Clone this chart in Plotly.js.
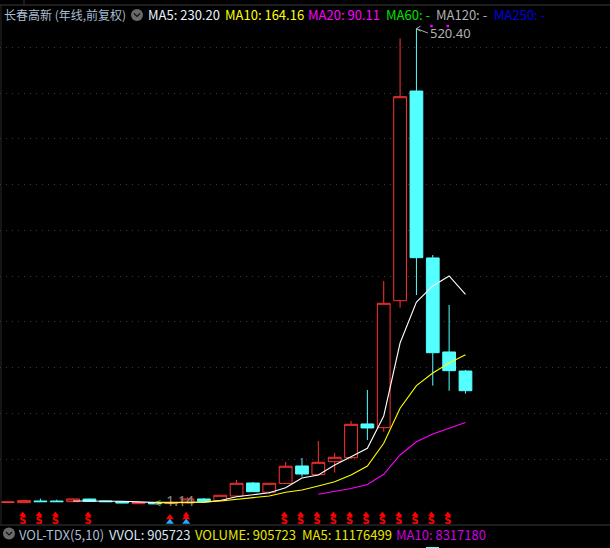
<!DOCTYPE html>
<html><head><meta charset="utf-8">
<script src="https://cdn.plot.ly/plotly-3.0.1.min.js"></script>
<style>html,body{margin:0;padding:0;background:#000;overflow:hidden}#c{width:610px;height:548px}</style>
</head><body><div id="c"></div>
<script>
const idx = Array.from({length:29},(_,i)=>i);
const open_  = [2.8,2.6,4.45,4.4,3.7,6.6,4.45,3.7,1.5,2.6,1.6,2.26,6.65,4.8,9.9,24.1,14.0,23.6,42.7,33.2,47.4,51.7,88.6,84.5,223.2,452.2,269.9,167.2,146.4];
const high_  = [3.4,5.0,6.97,5.9,6.8,6.9,4.9,3.9,2.8,2.9,3.0,8.5,7.7,11.0,27.4,25.2,24.1,47.0,51.4,70.0,56.9,91.8,125.7,244.7,509.8,520.4,273.1,218.5,147.5];
const low_   = [2.8,2.4,3.5,3.5,3.6,4.0,3.5,2.1,1.4,1.14,1.4,1.9,3.9,4.5,9.6,14.3,12.1,23.3,31.0,32.9,35.4,50.3,71.1,80.1,215.6,229.4,130.4,124.9,121.7];
const close_ = [3.4,4.8,3.7,3.7,6.65,4.1,3.7,2.26,2.6,1.4,2.4,6.65,4.1,10.7,23.8,14.6,23.8,42.4,33.9,46.7,52.2,88.2,84.2,220.4,446.0,270.2,166.4,146.8,124.9];
const ma5Idx = idx.slice(4);
const ma5  = [4.4,4.6,4.6,4.2,3.5,2.8,2.2,3.0,3.2,5.0,9.1,11.3,13.5,19.0,29.6,32.9,43.7,52.8,62.0,97.3,177.0,221.8,239.3,250.2,230.2];
const ma10Idx = idx.slice(9);
const ma10 = [2.9,2.8,3.0,3.1,4.4,6.3,7.7,9.9,13.9,16.4,20.8,25.5,32.8,42.7,67.5,105.7,130.4,144.2,155.2,164.16];
const ma20Idx = idx.slice(19);
const ma20 = [11.8,15.0,18.1,22.5,33.6,54.7,69.2,77.6,83.9,90.11];
const sIdx = [1,2,3,5,17,18,19,20,21,22,23,24,25,26,27];
const bsIdx = [10,11];
const squareIdx = [26,27];
const gridVals = [50,100,150,200,250,300,350,400,450,500];

const RED='#ff3232', CYAN='#54ffff';
const shift = a => a.map(i=>i-0.08);
const same = (a,v) => a.map(()=>v);

const traces = [
 {type:'scatter',mode:'text',x:[9.7],y:[2.3],text:['1.14'],textposition:'middle right',
  textfont:{family:'Noto Sans, sans-serif',size:14,color:'#8a8a8a'},hoverinfo:'skip'},
 {type:'scatter',mode:'text',x:[25.83],y:[514],text:['520.40'],textposition:'middle right',
  textfont:{family:'Noto Sans, sans-serif',size:13,color:'#b0b0b0'},hoverinfo:'skip'},
 {type:'scatter',mode:'lines',x:[25,25.7],y:[520.4,515.6],line:{color:'#b0b0b0',width:1},hoverinfo:'skip'},
 {type:'scatter',mode:'lines',x:[25.25,25,25.25],y:[523,520.4,517.5],line:{color:'#b0b0b0',width:1},hoverinfo:'skip'},
 {type:'scatter',mode:'lines',x:[9.35,9.0,9.35],y:[5,2.3,-1],line:{color:'#8a8a8a',width:1},hoverinfo:'skip'},
 {type:'candlestick',x:idx,open:open_,high:high_,low:low_,close:close_,whiskerwidth:0,
  increasing:{line:{color:RED,width:1},fillcolor:'#000'},
  decreasing:{line:{color:CYAN,width:1},fillcolor:CYAN},hoverinfo:'skip'},
 {type:'scatter',mode:'lines',x:ma5Idx,y:ma5,line:{color:'#ffffff',width:1.1},hoverinfo:'skip'},
 {type:'scatter',mode:'lines',x:ma10Idx,y:ma10,line:{color:'#ffff00',width:1.1},hoverinfo:'skip'},
 {type:'scatter',mode:'lines',x:ma20Idx,y:ma20,line:{color:'#ff00ff',width:1.1},hoverinfo:'skip'},
 {type:'scatter',mode:'markers',x:shift(squareIdx),y:same(squareIdx,523.2),
  marker:{symbol:'square',size:2.5,color:'#ff00ff'},hoverinfo:'skip'},
 {type:'scatter',mode:'text',x:shift(sIdx),y:same(sIdx,-17.6),text:same(sIdx,'S'),textposition:'middle center',
  textfont:{family:'DejaVu Sans, sans-serif',size:10,color:'#ff0000',weight:700},hoverinfo:'skip'},
 {type:'scatter',mode:'markers',x:shift(sIdx),y:same(sIdx,-10.4),
  marker:{symbol:'triangle-up',size:6,color:'#ff0000'},hoverinfo:'skip'},
 {type:'scatter',mode:'markers',x:shift(bsIdx),y:same(bsIdx,-18.6),
  marker:{symbol:'triangle-up',size:7,color:'#2aa8ff'},hoverinfo:'skip'},
 {type:'scatter',mode:'markers',x:shift(bsIdx),y:same(bsIdx,-13.6),
  marker:{symbol:'triangle-up',size:7,color:'#ff0000'},hoverinfo:'skip'},
 {type:'scatter',mode:'markers',x:shift([11]),y:[-10.6],
  marker:{symbol:'triangle-up',size:6,color:'#ff0000'},hoverinfo:'skip'}
];

const FONT='"Noto Sans CJK SC","Noto Sans",sans-serif';
const label=(t,px,py,color,size)=>({text:t,x:(px-2)/610,y:1-py/548,xref:'paper',yref:'paper',xanchor:'left',yanchor:'middle',
  showarrow:false,font:{family:FONT,size:size||13,color:color}});
const annotations=[
 label('长春高新 (年线,前复权)',4,14.5,'#a9bdd2',12),
 label('MA5: 230.20',148,14.5,'#e8f2ff'),
 label('MA10: 164.16',225,14.5,'#ffff00'),
 label('MA20: 90.11',308,14.5,'#ff00ff'),
 label('MA60: -',386,14.5,'#00e000'),
 label('MA120: -',436,14.5,'#b0b0b0'),
 label('MA250: -',494,14.5,'#0000e8'),
 label('VOL-TDX(5,10)',19,534,'#a9bdd2'),
 label('VVOL: 905723',109,534,'#d8e4f0'),
 label('VOLUME: 905723',195,534,'#e6e600'),
 label('MA5: 11176499',302,534,'#e6e600'),
 label('MA10: 8317180',396,534,'#d000e0')
];
const P=(x0,y0,x1,y1,extra)=>Object.assign({xref:'paper',yref:'paper',x0:x0/610,x1:x1/610,y0:1-y0/548,y1:1-y1/548,line:{width:0}},extra);
const shapes=[
 P(0,5,610,5,{type:'line',line:{color:'#3a3a3a',width:1}}),
 P(0,525,610,525,{type:'line',line:{color:'#3a3a3a',width:1}}),
 P(1,5,1,525,{type:'line',line:{color:'#2a2a2a',width:1}}),
 P(24,0,24,5,{type:'line',line:{color:'#3a3a3a',width:1}}),
 P(131,9,143,21,{type:'circle',fillcolor:'#6a6a6a'}),
 P(3,527.5,15,539.5,{type:'circle',fillcolor:'#6a6a6a'}),
 P(426,547,439,548,{type:'rect',fillcolor:CYAN}),
 {type:'path',xref:'paper',yref:'paper',path:`M${134/610},${1-13.5/548} L${137/610},${1-16.5/548} L${140/610},${1-13.5/548}`,line:{color:'#111',width:1.2}},
 {type:'path',xref:'paper',yref:'paper',path:`M${6/610},${1-532/548} L${9/610},${1-535/548} L${12/610},${1-532/548}`,line:{color:'#111',width:1.2}}
];

const layout={width:610,height:548,margin:{l:0,r:0,t:0,b:0},paper_bgcolor:'#000',plot_bgcolor:'#000',showlegend:false,
 boxgap:0.22,boxgroupgap:0,
 xaxis:{range:[-0.471,36.84],visible:false,rangeslider:{visible:false},fixedrange:true},
 yaxis:{range:[-46.9,551.64],tickmode:'array',tickvals:gridVals,showticklabels:false,ticks:'',zeroline:false,showline:false,
   showgrid:true,gridcolor:'#3c3c3c',griddash:'1px,5px',gridwidth:1,fixedrange:true},
 annotations:annotations,shapes:shapes};
Plotly.newPlot('c',traces,layout,{displayModeBar:false,staticPlot:true});
</script></body></html>
